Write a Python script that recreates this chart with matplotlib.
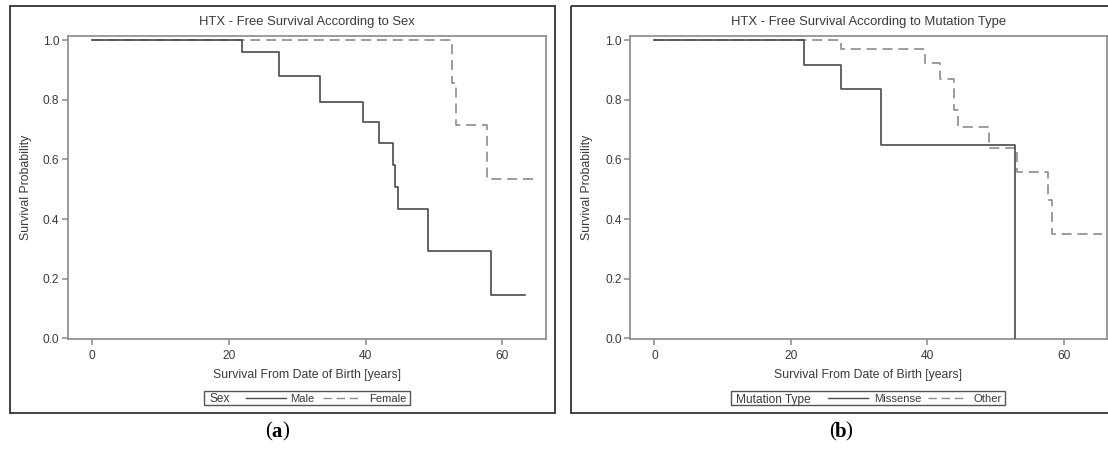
import matplotlib
matplotlib.use("Agg")
import matplotlib.pyplot as plt
from matplotlib.patches import Rectangle
from matplotlib.lines import Line2D

plt.rcParams['font.family'] = ['Liberation Sans', 'DejaVu Sans']

# Kaplan-Meier step data (years, survival probability)
male_t = [0, 21.9, 27.4, 33.3, 39.65, 41.96, 43.95, 44.36, 44.67, 49.1, 58.3, 63.3]
male_s = [1.0, 0.962, 0.880, 0.792, 0.727, 0.654, 0.583, 0.509, 0.435, 0.293, 0.1465, 0.1465]
female_t = [0, 52.7, 53.2, 57.7, 65.2]
female_s = [1.0, 0.858, 0.716, 0.535, 0.535]

missense_t = [0, 21.9, 27.3, 33.2, 52.8, 52.8]
missense_s = [1.0, 0.918, 0.836, 0.649, 0.0, 0.0]
other_t = [0, 27.3, 39.6, 41.9, 43.9, 44.5, 49.0, 53.2, 57.7, 58.3, 65.6]
other_s = [1.0, 0.970, 0.923, 0.871, 0.766, 0.708, 0.639, 0.558, 0.463, 0.349, 0.349]

titles = ["HTX - Free Survival According to Sex",
          "HTX - Free Survival According to Mutation Type"]
pvals = ["Logrank p=0.0041", "Logrank p=0.0412"]
legend_titles = ["Sex", "Mutation Type"]
group_names = [["Male", "Female"], ["Missense", "Other"]]
captions = ["a", "b"]
xticks = [0, 20, 40, 60]
yticks = [0.0, 0.2, 0.4, 0.6, 0.8, 1.0]

W, H = 1108, 450
fig = plt.figure(figsize=(W / 100, H / 100), dpi=100)

# overlay axes in pixel coordinates for frames, legends and captions
ov = fig.add_axes([0, 0, 1, 1])
ov.set_xlim(0, W)
ov.set_ylim(H, 0)
ov.axis('off')

SOLID = '#4a4a4a'
DASH = '#8c8c8c'
SPINE = '#8a8a8a'
TXT = '#3a3a3a'


def ax_box(x0, x1, y0, y1):
    return [x0 / W, 1 - y1 / H, (x1 - x0) / W, (y1 - y0) / H]


panels = [
    dict(frame=(9.5, 555, 5.5, 413), axes=(67.7, 545.5, 36, 339), ylab_x=25.6,
         pbox=(445.7, 538.4, 53, 66),
         leg=dict(box=(204, 409.7), title_x=209, l1=(245.5, 285.9), t1=290.4,
                  l2=(323.4, 361.3), t2=369),
         cap_x=277, data=[(male_t, male_s), (female_t, female_s)]),
    dict(frame=(570.7, 1120, 5.5, 413), axes=(630.1, 1106.7, 36, 339), ylab_x=586.7,
         pbox=(1009, 1102.8, 40, 54),
         leg=dict(box=(731.4, 1005.4), title_x=735.6, l1=(827.7, 868.2), t1=873.9,
                  l2=(928.2, 964.9), t2=973.7),
         cap_x=840.7, data=[(missense_t, missense_s), (other_t, other_s)]),
]

for i, p in enumerate(panels):
    fx0, fx1, fy0, fy1 = p['frame']
    ov.add_patch(Rectangle((fx0, fy0), fx1 - fx0, fy1 - fy0, fill=False,
                           ec='#333333', lw=1.3, zorder=1))

    ax = fig.add_axes(ax_box(*p['axes']))
    (t1, s1), (t2, s2) = p['data']
    ax.step(t1, s1, where='post', color=SOLID, lw=1.2, zorder=3)
    ax.step(t2, s2, where='post', color=DASH, lw=1.2, dashes=(6, 3.5), zorder=2)
    ax.set_xlim(-3.55, 66.3)
    ax.set_ylim(-0.002, 1.014)
    ax.set_xticks(xticks)
    ax.set_yticks(yticks)
    ax.set_yticklabels([f"{v:.1f}" for v in yticks])
    for sp in ax.spines.values():
        sp.set_color(SPINE)
        sp.set_linewidth(1.2)
    ax.tick_params(colors=SPINE, labelcolor=TXT, labelsize=8.6, length=4, width=1.1, pad=2)
    ax.tick_params(axis='x', pad=4)
    ax.set_xlabel("Survival From Date of Birth [years]", fontsize=8.8, color=TXT, labelpad=5)

    ax0, ax1, ay0, ay1 = p['axes']
    cx = (ax0 + ax1) / 2
    ov.text(cx, 22, titles[i], ha='center', va='center', fontsize=9.4, color=TXT)
    ov.text(p['ylab_x'], (ay0 + ay1) / 2, "Survival Probability", rotation=90,
            ha='center', va='center', fontsize=8.8, color=TXT)

    # logrank box
    bx0, bx1, by0, by1 = p['pbox']
    ov.add_patch(Rectangle((bx0, by0), bx1 - bx0, by1 - by0, fill=True, fc='white',
                           ec='#555555', lw=1.0, zorder=5))
    ov.text((bx0 + bx1) / 2, (by0 + by1) / 2 + 0.5, pvals[i], ha='center', va='center',
            fontsize=7.8, color=TXT, zorder=6)

    # legend
    lg = p['leg']
    ly = 398
    ov.add_patch(Rectangle((lg['box'][0], 391), lg['box'][1] - lg['box'][0], 14,
                           fill=False, ec='#555555', lw=1.0))
    ov.text(lg['title_x'], ly, legend_titles[i], ha='left', va='center_baseline',
            fontsize=8.6, color=TXT)
    ov.add_line(Line2D(lg['l1'], [ly, ly], color=SOLID, lw=1.0))
    ov.text(lg['t1'], ly, group_names[i][0], ha='left', va='center_baseline',
            fontsize=8.1, color=TXT)
    ov.add_line(Line2D(lg['l2'], [ly, ly], color=DASH, lw=1.0, dashes=(6, 3.5)))
    ov.text(lg['t2'], ly, group_names[i][1], ha='left', va='center_baseline',
            fontsize=8.1, color=TXT)

    # caption "(a)" / "(b)" with bold letter
    cxp = p['cap_x']
    ov.text(cxp - 5, 432, "(", ha='right', va='center', fontsize=15,
            family='Liberation Serif', color='black')
    ov.text(cxp, 432, captions[i], ha='center', va='center', fontsize=15,
            family='Liberation Serif', weight='bold', color='black')
    ov.text(cxp + 5, 432, ")", ha='left', va='center', fontsize=15,
            family='Liberation Serif', color='black')

fig.savefig("out.png", dpi=100)
